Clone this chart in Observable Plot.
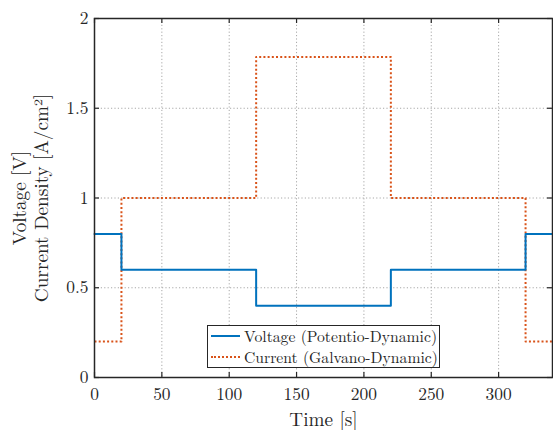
<!DOCTYPE html>
<html><head><meta charset="utf-8">
<script src="https://cdn.jsdelivr.net/npm/d3@7"></script>
<script src="https://cdn.jsdelivr.net/npm/@observablehq/plot@0.6"></script>
<style>
body{margin:0;background:#fff;}
#wrap{position:relative;width:553px;height:430px;font-family:'Latin Modern Roman','Liberation Serif',serif;color:#262626;}
#wrap svg text{font-family:'Latin Modern Roman','Liberation Serif',serif;}
#wrap svg{overflow:visible;}
#legend{position:absolute;left:207px;top:325px;width:231px;height:41px;border:1.5px solid #262626;background:#fff;font-size:15.7px;font-family:'Latin Modern Roman','Liberation Serif',serif;}
.row{display:flex;align-items:center;height:20.5px;white-space:nowrap;overflow:visible;}
.row span{display:inline-block;height:16px;line-height:16px;overflow:visible;}
.sw{width:29px;margin-left:3px;margin-right:4px;height:0;}
</style>
</head><body>
<div id="wrap"></div>
<script>
const times = [0, 20, 120, 220, 320, 340];
const voltage = [0.8, 0.6, 0.4, 0.6, 0.8, 0.8];
const current = [0.2, 1.0, 1.786, 1.0, 0.2, 0.2];
const xTicks = [0, 50, 100, 150, 200, 250, 300];
const yTicks = [0, 0.5, 1, 1.5, 2];
const seriesNames = ["Voltage (Potentio-Dynamic)", "Current (Galvano-Dynamic)"];
const colors = ["#0072BD", "#D95319"];

const W = 553, H = 430, mL = 94, mR = 1, mT = 18, mB = 53;
const innerW = W - mL - mR, innerH = H - mT - mB;
const tickLen = 5;
const dark = "#262626";
const FONT = "'Latin Modern Roman', 'Liberation Serif', serif";

const vData = times.map((t, i) => ({t, v: voltage[i]}));
const cData = times.map((t, i) => ({t, v: current[i]}));

const chart = Plot.plot({
  width: W, height: H,
  marginLeft: mL, marginRight: mR, marginTop: mT, marginBottom: mB,
  style: {fontFamily: FONT, fontSize: "17px", color: dark, background: "#fff"},
  x: {domain: [0, 340]},
  y: {domain: [0, 2]},
  marks: [
    Plot.gridX(xTicks, {stroke: "#a8a8a8", strokeOpacity: 1, strokeDasharray: "1.2,2.2", strokeWidth: 1}),
    Plot.gridY(yTicks, {stroke: "#a8a8a8", strokeOpacity: 1, strokeDasharray: "1.2,2.2", strokeWidth: 1}),
    Plot.line(cData, {x: "t", y: "v", curve: "step-after", stroke: colors[1], strokeWidth: 2, strokeDasharray: "2,2.2", strokeLinecap: "butt"}),
    Plot.line(vData, {x: "t", y: "v", curve: "step-after", stroke: colors[0], strokeWidth: 2}),
    Plot.tickX(xTicks, {x: d => d, insetTop: innerH - tickLen, stroke: dark, strokeWidth: 1.2}),
    Plot.tickX(xTicks, {x: d => d, insetBottom: innerH - tickLen, stroke: dark, strokeWidth: 1.2}),
    Plot.tickY(yTicks, {y: d => d, insetRight: innerW - tickLen, stroke: dark, strokeWidth: 1.2}),
    Plot.tickY(yTicks, {y: d => d, insetLeft: innerW - tickLen, stroke: dark, strokeWidth: 1.2}),
    Plot.frame({stroke: dark, strokeWidth: 1.5}),
    Plot.axisX({ticks: xTicks, tickSize: 0, tickPadding: 10, label: null, fontSize: 17.4, tickFormat: d => String(d), fontFamily: FONT}),
    Plot.axisY({ticks: yTicks, tickSize: 0, tickPadding: 6, label: null, fontSize: 17.4, tickFormat: d => String(d), fontFamily: FONT}),
    Plot.text(["Time [s]"], {text: d => d, frameAnchor: "bottom", dy: 48, fontSize: 19.2, fill: dark, fontFamily: FONT}),
    Plot.text(["Voltage [V]\nCurrent Density [A/cm²]"], {text: d => d, frameAnchor: "left", textAnchor: "middle", rotate: -90, dx: -65, fontSize: 19.2, lineHeight: 1.15, fill: dark, fontFamily: FONT})
  ]
});

const wrap = document.getElementById("wrap");
wrap.appendChild(chart);
const lg = document.createElement("div");
lg.id = "legend";
lg.innerHTML = seriesNames.map((n, i) =>
  `<div class="row"><div class="sw" style="border-top:2px ${i ? "dotted" : "solid"} ${colors[i]}"></div><span>${n}</span></div>`
).join("");
wrap.appendChild(lg);
</script>
</body></html>
